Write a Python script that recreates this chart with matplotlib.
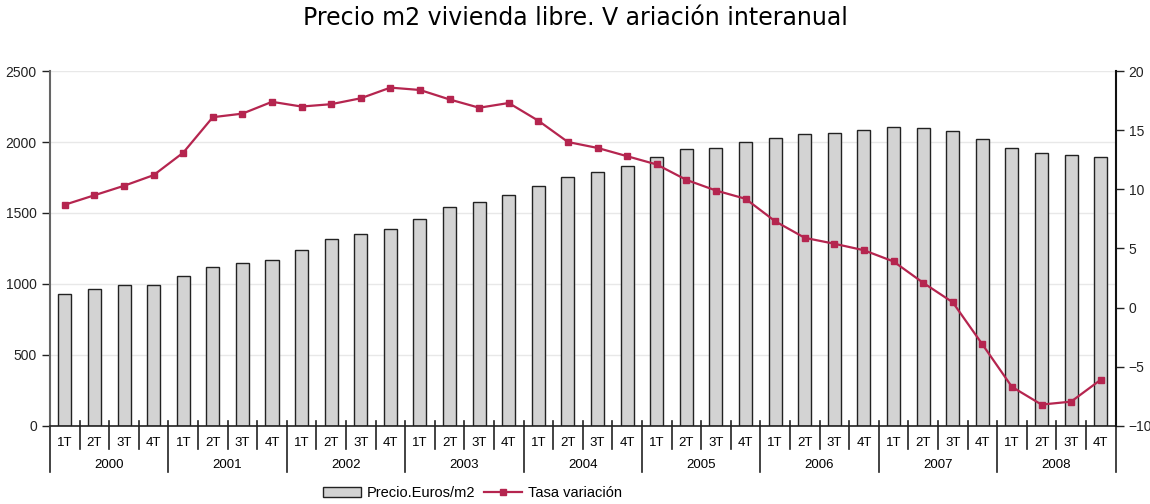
import numpy as np
import matplotlib.pyplot as plt
import matplotlib.transforms as mtransforms

years = ['2000', '2001', '2002', '2003', '2004', '2005', '2006', '2007', '2008']
quarters = ['1T', '2T', '3T', '4T']

# precio euros/m2 por trimestre
precio = [929, 963, 990, 995, 1054, 1122, 1146, 1169,
          1239, 1317, 1352, 1387, 1458, 1542, 1577, 1627,
          1690, 1754, 1789, 1831, 1894, 1951, 1958, 2000,
          2026, 2056, 2063, 2087, 2103, 2099, 2075, 2019,
          1960, 1923, 1906, 1892]

# tasa de variacion interanual (%)
tasa = [8.7, 9.5, 10.3, 11.2, 13.1, 16.1, 16.4, 17.4,
        17.0, 17.2, 17.7, 18.6, 18.4, 17.6, 16.9, 17.3,
        15.8, 14.0, 13.5, 12.8, 12.1, 10.8, 9.9, 9.2,
        7.3, 5.9, 5.4, 4.85, 3.9, 2.1, 0.45, -3.1,
        -6.7, -8.2, -7.95, -6.1]


def main():
    plt.rcParams['font.family'] = ['Liberation Sans', 'DejaVu Sans']
    fig = plt.figure(figsize=(11.5, 5.04), dpi=100)
    ax = fig.add_axes([0.0435, 0.155, 0.9265, 0.704])
    ax2 = ax.twinx()

    n = len(precio)
    x = np.arange(n)
    ax.bar(x, precio, width=0.44, color='#d3d3d3', edgecolor='#222222',
           linewidth=1.0, label='Precio.Euros/m2', zorder=2)
    ax.set_xlim(-0.5, n - 0.5)
    ax.set_ylim(0, 2500)
    ax.set_yticks(np.arange(0, 2501, 500))
    ax.yaxis.grid(True, color='#e8e8e8', linewidth=1, zorder=0)
    ax.set_axisbelow(True)

    ax2.plot(x, tasa, color='#b5254f', linewidth=1.6, marker='s',
             markersize=5, label='Tasa variación', zorder=3)
    ax2.set_ylim(-10, 20)
    ax2.set_yticks(np.arange(-10, 21, 5))

    for a in (ax, ax2):
        a.spines['top'].set_visible(False)
        a.spines['bottom'].set_visible(False)
        a.tick_params(axis='y', labelsize=10, length=6, width=1, colors='#222222')
    ax.spines['left'].set_color('#666666')
    ax.spines['left'].set_linewidth(1.5)
    ax.spines['right'].set_visible(False)
    ax2.spines['left'].set_visible(False)
    ax2.spines['right'].set_color('#111111')
    ax2.spines['right'].set_linewidth(1.5)

    # eje x: trimestres y años
    ax.axhline(0, color='#222222', linewidth=1.2, zorder=4, clip_on=False)
    ax.set_xticks(x)
    ax.set_xticklabels(quarters * len(years), fontsize=9.5)
    ax.tick_params(axis='x', length=0, pad=8)

    trans = mtransforms.blended_transform_factory(ax.transData, ax.transAxes)
    px = 1.0 / (0.704 * 504)
    for i in range(n + 1):
        bottom = -46 * px if i % 4 == 0 else -23 * px
        ax.plot([i - 0.5, i - 0.5], [5 * px, bottom], transform=trans,
                color='#222222', linewidth=1.2, clip_on=False)
    for j, yr in enumerate(years):
        ax.text(4 * j + 1.5, -39 * px, yr, transform=trans, ha='center',
                va='center', fontsize=9.5)

    fig.text(0.5, 0.964, 'Precio m2 vivienda libre. V ariación interanual',
             ha='center', va='center', fontsize=17, family='DejaVu Sans')

    h1, l1 = ax.get_legend_handles_labels()
    h2, l2 = ax2.get_legend_handles_labels()
    fig.legend(h1 + h2, l1 + l2, loc='center', bbox_to_anchor=(0.411, 0.022),
               ncol=2, frameon=False, fontsize=10.5, handlelength=2.6,
               columnspacing=0.6, handletextpad=0.4)

    fig.savefig('out.png', dpi=100)


if __name__ == '__main__':
    main()
